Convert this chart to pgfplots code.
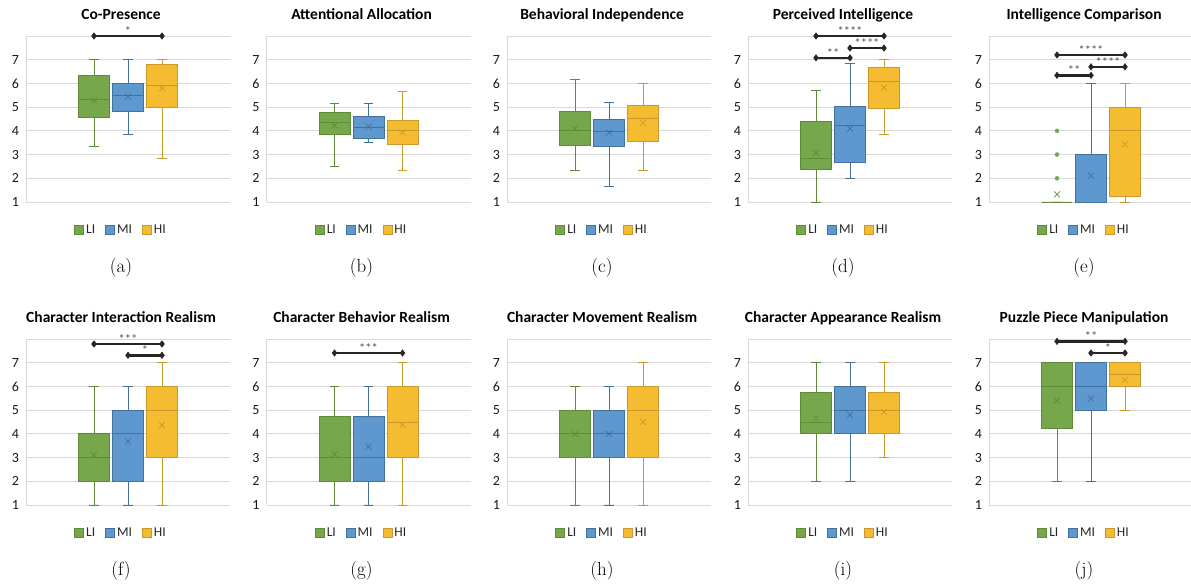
\documentclass[border=0pt]{standalone}
\usepackage{pgfplots}
\pgfplotsset{compat=1.18}
\usepgfplotslibrary{statistics}
\usepackage{fontspec}
\newfontfamily\calibri{Carlito}
\definecolor{LIf}{HTML}{77A74B}
\definecolor{LIe}{HTML}{5E8A3A}
\definecolor{MIf}{HTML}{5F97CF}
\definecolor{MIe}{HTML}{41719C}
\definecolor{HIf}{HTML}{F5BC32}
\definecolor{HIe}{HTML}{C9992C}
\definecolor{gridc}{HTML}{D9D9D9}
\definecolor{sigc}{HTML}{262626}
\definecolor{astc}{HTML}{505050}

\pgfplotsset{
 panel/.style={
  scale only axis, width=204pt, height=166pt, anchor=south west,
  xmin=0, xmax=6, ymin=1, ymax=8, clip=false,
  axis lines=left, axis line style={draw=gridc, line width=0.8pt, -},
  xtick=\empty, ytick={1,2,3,4,5,6,7,8}, yticklabels={1,2,3,4,5,6,7,{}},
  major tick length=0pt,
  ymajorgrids, major grid style={draw=gridc, line width=0.8pt},
  yticklabel style={font=\calibri\fontsize{14}{16}\selectfont, text=black!90, xshift=-3.5pt},
  title style={at={(0.466,1)}, anchor=base, yshift=10pt, font=\calibri\bfseries\fontsize{15.5}{18}\selectfont},
  legend style={at={(0.466,-0.169)}, anchor=center, draw=none, fill=none,
    font=\calibri\fontsize{13.5}{15}\selectfont, text=black!85, legend columns=3,
    /tikz/every even column/.append style={column sep=8pt}},
  legend image code/.code={\draw[##1, line width=0.8pt] (0pt,-4.5pt) rectangle (9pt,4.5pt);},
 },
}

% box: position, group, lower whisker, q1, median, q3, upper whisker
\newcommand{\bx}[7]{\addplot[forget plot, draw=#2e, fill=#2f, line width=0.8pt,
  boxplot prepared={draw position=#1, lower whisker=#3, lower quartile=#4, median=#5,
  upper quartile=#6, upper whisker=#7, box extend=0.91, whisker extend=0.27, draw direction=y}] coordinates {};}
% mean: position, group, value
\newcommand{\mn}[3]{\addplot[forget plot, only marks, mark=x, mark size=4.2pt, draw=#2e, line width=0.7pt] coordinates {(#1,#3)};}
% significance: x1, x2, y, mid, label
\newcommand{\sig}[5]{\addplot[forget plot, sigc, line width=2.4pt, mark=diamond*, mark size=3.2pt,
  mark options={solid, line width=0.5pt, fill=sigc}] coordinates {(#1,#3) (#2,#3)};
  \node[above, inner sep=0pt, yshift=0.5pt, font=\calibri\fontsize{12.5}{14}\selectfont, text=astc] at (axis cs:#4,#3) {#5};}
\newcommand{\leg}{\addlegendimage{draw=LIe, fill=LIf}\addlegendentry{LI}%
  \addlegendimage{draw=MIe, fill=MIf}\addlegendentry{MI}%
  \addlegendimage{draw=HIe, fill=HIf}\addlegendentry{HI}}
\newcommand{\lab}[1]{\node[font=\fontsize{19}{22}\selectfont] at (axis description cs:0.466,-0.3976) {#1};}

\begin{document}
\begin{tikzpicture}[x=1pt,y=1pt]
\useasboundingbox (0,0) rectangle (1191,588);

% (a)
\begin{axis}[panel, at={(26pt,386pt)}, title={Co-Presence}]
\leg
\bx{2}{LI}{3.34}{4.55}{5.32}{6.32}{7}
\bx{3}{MI}{3.83}{4.83}{5.48}{6.0}{7}
\bx{4}{HI}{2.82}{5.01}{5.90}{6.79}{7}
\mn{2}{LI}{5.28}
\mn{3}{MI}{5.44}
\mn{4}{HI}{5.80}
\sig{2}{4}{8.0}{3}{*}
\lab{(a)}
\end{axis}

% (b)
\begin{axis}[panel, at={(266.5pt,386pt)}, title={Attentional Allocation}]
\leg
\bx{2}{LI}{2.51}{3.85}{4.34}{4.79}{5.17}
\bx{3}{MI}{3.51}{3.69}{4.15}{4.62}{5.17}
\bx{4}{HI}{2.34}{3.41}{4.01}{4.46}{5.68}
\mn{2}{LI}{4.22}
\mn{3}{MI}{4.18}
\mn{4}{HI}{3.94}
\lab{(b)}
\end{axis}

% (c)
\begin{axis}[panel, at={(507pt,386pt)}, title={Behavioral Independence}]
\leg
\bx{2}{LI}{2.34}{3.39}{4.03}{4.83}{6.18}
\bx{3}{MI}{1.67}{3.35}{3.96}{4.49}{5.2}
\bx{4}{HI}{2.34}{3.55}{4.51}{5.06}{6.0}
\mn{2}{LI}{4.10}
\mn{3}{MI}{3.93}
\mn{4}{HI}{4.34}
\lab{(c)}
\end{axis}

% (d)
\begin{axis}[panel, at={(748pt,386pt)}, title={Perceived Intelligence}]
\leg
\bx{2}{LI}{1.0}{2.38}{2.85}{4.41}{5.69}
\bx{3}{MI}{2.0}{2.66}{4.24}{5.04}{6.86}
\bx{4}{HI}{3.85}{4.96}{6.10}{6.69}{7.0}
\mn{2}{LI}{3.07}
\mn{3}{MI}{4.09}
\mn{4}{HI}{5.83}
\sig{2}{3}{7.08}{2.5}{**}
\sig{2}{4}{8.0}{3}{****}
\sig{3}{4}{7.49}{3.5}{****}
\lab{(d)}
\end{axis}

% (e)
\begin{axis}[panel, at={(989pt,386pt)}, title={Intelligence Comparison}]
\leg
\bx{2}{LI}{1}{1}{1}{1}{1}
\bx{3}{MI}{1}{1}{1}{3}{6}
\bx{4}{HI}{1}{1.25}{4}{5}{6}
\addplot[forget plot, only marks, mark=*, mark size=2pt, LIf] coordinates {(2,2) (2,3) (2,4)};
\mn{2}{LI}{1.32}
\mn{3}{MI}{2.11}
\mn{4}{HI}{3.43}
\sig{2}{3}{6.34}{2.5}{**}
\sig{2}{4}{7.2}{3}{****}
\sig{3}{4}{6.7}{3.5}{****}
\lab{(e)}
\end{axis}

% (f)
\begin{axis}[panel, at={(26pt,83pt)}, title={Character Interaction Realism}]
\leg
\bx{2}{LI}{1}{2}{3}{4}{6}
\bx{3}{MI}{1}{2}{4}{5}{6}
\bx{4}{HI}{1}{3}{5}{6}{7}
\mn{2}{LI}{3.10}
\mn{3}{MI}{3.67}
\mn{4}{HI}{4.37}
\sig{2}{4}{7.79}{3}{***}
\sig{3}{4}{7.31}{3.5}{*}
\lab{(f)}
\end{axis}

% (g)
\begin{axis}[panel, at={(266.5pt,83pt)}, title={Character Behavior Realism}]
\leg
\bx{2}{LI}{1}{2}{3}{4.75}{6}
\bx{3}{MI}{1}{2}{3}{4.75}{6}
\bx{4}{HI}{1}{3}{4.5}{6}{7}
\mn{2}{LI}{3.15}
\mn{3}{MI}{3.46}
\mn{4}{HI}{4.37}
\sig{2}{4}{7.41}{3}{***}
\lab{(g)}
\end{axis}

% (h)
\begin{axis}[panel, at={(507pt,83pt)}, title={Character Movement Realism}]
\leg
\bx{2}{LI}{1}{3}{4}{5}{6}
\bx{3}{MI}{1}{3}{4}{5}{6}
\bx{4}{HI}{1}{3}{5}{6}{7}
\mn{2}{LI}{4.0}
\mn{3}{MI}{4.0}
\mn{4}{HI}{4.5}
\lab{(h)}
\end{axis}

% (i)
\begin{axis}[panel, at={(748pt,83pt)}, title={Character Appearance Realism}]
\leg
\bx{2}{LI}{2}{4}{4.5}{5.75}{7}
\bx{3}{MI}{2}{4}{5}{6}{7}
\bx{4}{HI}{3}{4}{5}{5.75}{7}
\mn{2}{LI}{4.66}
\mn{3}{MI}{4.80}
\mn{4}{HI}{4.92}
\lab{(i)}
\end{axis}

% (j)
\begin{axis}[panel, at={(989pt,83pt)}, title={Puzzle Piece Manipulation}]
\leg
\bx{2}{LI}{2}{4.25}{6}{7}{7}
\bx{3}{MI}{2}{5}{6}{7}{7}
\bx{4}{HI}{5}{6}{6.5}{7}{7}
\mn{2}{LI}{5.40}
\mn{3}{MI}{5.49}
\mn{4}{HI}{6.28}
\sig{2}{4}{7.9}{3}{**}
\sig{3}{4}{7.41}{3.5}{*}
\lab{(j)}
\end{axis}

\end{tikzpicture}
\end{document}
